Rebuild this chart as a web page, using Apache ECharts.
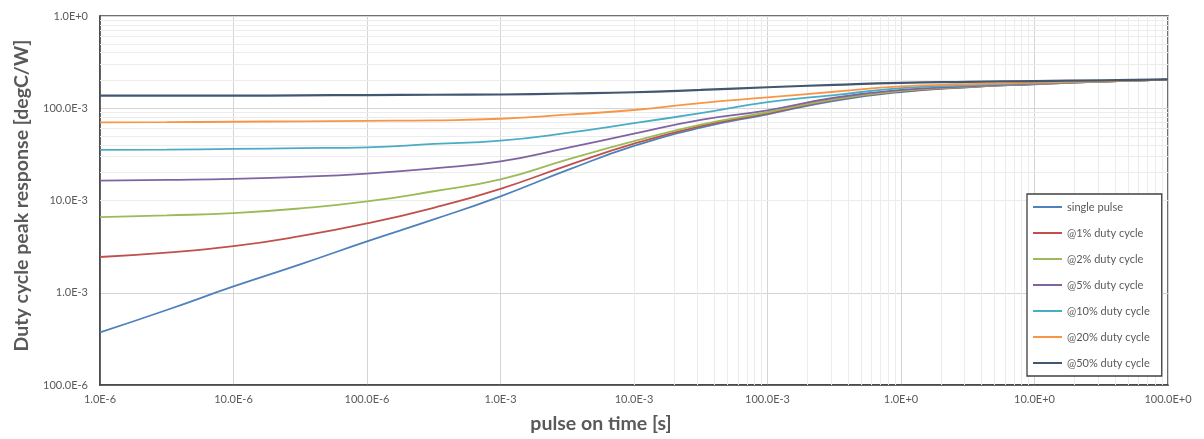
<!DOCTYPE html>
<html>
<head>
<meta charset="utf-8">
<script src="https://cdn.jsdelivr.net/npm/echarts@6/dist/echarts.min.js"></script>
<style>
  html, body { margin: 0; padding: 0; background: #fff; }
  #chart { width: 1204px; height: 439px; }
</style>
</head>
<body>
<div id="chart"></div>
<script>
// pulse on time [s], half-decade steps
var pulseTimes = [1e-6, 3.16e-6, 1e-5, 3.16e-5, 1e-4, 3.16e-4, 1e-3, 3.16e-3, 1e-2,
  3.16e-2, 1e-1, 3.16e-1, 1, 3.16, 10, 31.6, 100];

var seriesNames = ['single pulse', '@1% duty cycle', '@2% duty cycle', '@5% duty cycle',
  '@10% duty cycle', '@20% duty cycle', '@50% duty cycle'];

var singlePulse = [0.000371, 0.00065, 0.00117, 0.00203, 0.0036, 0.00623, 0.0111, 0.0213, 0.039,
  0.0615, 0.0861, 0.1205, 0.150, 0.169, 0.182, 0.194, 0.204];
var duty1 = [0.00244, 0.00272, 0.0032, 0.00411, 0.00564, 0.00834, 0.0134, 0.0239, 0.0413,
  0.0639, 0.088, 0.1236, 0.152, 0.170, 0.183, 0.194, 0.204];
var duty2 = [0.00659, 0.00689, 0.0073, 0.0082, 0.00976, 0.0126, 0.0169, 0.0277, 0.044,
  0.0663, 0.0905, 0.125, 0.154, 0.171, 0.184, 0.194, 0.204];
var duty5 = [0.01645, 0.01675, 0.01715, 0.01803, 0.0196, 0.0223, 0.0265, 0.0371, 0.053,
  0.075, 0.095, 0.130, 0.158, 0.173, 0.185, 0.195, 0.204];
var duty10 = [0.0353, 0.0356, 0.0362, 0.0369, 0.0377, 0.0410, 0.0446, 0.054, 0.0688,
  0.0887, 0.1167, 0.139, 0.165, 0.177, 0.187, 0.195, 0.204];
var duty20 = [0.0702, 0.0706, 0.0714, 0.0722, 0.0730, 0.0740, 0.0769, 0.0851, 0.0957,
  0.1138, 0.131, 0.151, 0.173, 0.182, 0.190, 0.196, 0.205];
var duty50 = [0.137, 0.137, 0.137, 0.138, 0.139, 0.140, 0.141, 0.1445, 0.149,
  0.158, 0.169, 0.179, 0.188, 0.193, 0.197, 0.201, 0.206];

var allValues = [singlePulse, duty1, duty2, duty5, duty10, duty20, duty50];
var colors = ['#4F81BD', '#C0504D', '#9BBB59', '#8064A2', '#4BACC6', '#F79646', '#435770'];

// engineering notation like the spreadsheet: 1.0E-6, 10.0E-6, 100.0E-6, 1.0E-3 ...
function engLabel(v) {
  var e = Math.round(Math.log10(v));
  var eng = Math.floor(e / 3) * 3;
  var m = Math.pow(10, e - eng);
  return m.toFixed(1) + 'E' + (eng >= 0 ? '+' : '') + eng;
}

// minor grid lines at 2..9 of every decade
var minorX = [], minorY = [];
for (var d = -6; d < 2; d++) {
  for (var k = 2; k <= 9; k++) minorX.push({ xAxis: k * Math.pow(10, d) });
}
for (var d2 = -4; d2 < 0; d2++) {
  for (var k2 = 2; k2 <= 9; k2++) minorY.push({ yAxis: k2 * Math.pow(10, d2) });
}

var font = 'Lato, "Open Sans", sans-serif';

var series = [{
  name: 'minor-grid',
  type: 'line',
  data: [],
  z: 1,
  silent: true,
  markLine: {
    z: 1,
    silent: true,
    animation: false,
    symbol: ['none', 'none'],
    label: { show: false },
    emphasis: { disabled: true },
    lineStyle: { color: '#ececec', width: 1, type: 'solid' },
    data: minorX.concat(minorY)
  }
}];

allValues.forEach(function (vals, i) {
  series.push({
    name: seriesNames[i],
    type: 'line',
    z: 3,
    smooth: 0.5,
    symbol: 'none',
    showSymbol: false,
    color: colors[i],
    lineStyle: { width: i === 6 ? 2.2 : 1.8, color: colors[i] },
    data: pulseTimes.map(function (t, j) { return [t, vals[j]]; })
  });
});

var chart = echarts.init(document.getElementById('chart'));
chart.setOption({
  animation: false,
  backgroundColor: '#fff',
  grid: {
    left: 100, right: 36, top: 16, bottom: 53,
    show: true, borderColor: '#404040', borderWidth: 1.5
  },
  legend: {
    data: seriesNames,
    z: 20,
    orient: 'vertical',
    left: 1027,
    top: 194,
    padding: [6, 12, 6, 6],
    itemGap: 12,
    itemWidth: 29,
    itemHeight: 2,
    itemTextGap: 4,
    icon: 'rect',
    backgroundColor: '#fff',
    borderColor: '#404040',
    borderWidth: 1.3,
    borderRadius: 0,
    textStyle: { fontFamily: font, fontSize: 11, color: '#595959', lineHeight: 14 }
  },
  xAxis: {
    type: 'log',
    logBase: 10,
    min: 1e-6,
    max: 100,
    splitNumber: 8,
    name: 'pulse on time [s]',
    nameLocation: 'middle',
    nameGap: 29,
    nameTextStyle: {
      fontFamily: font, fontSize: 19.5, fontWeight: 'bold', color: '#595959',
      padding: [0, 66, 0, 0]
    },
    axisLine: { show: true, lineStyle: { color: '#404040', width: 1.5 } },
    axisTick: { show: false },
    axisLabel: { fontFamily: font, fontSize: 11, color: '#595959', margin: 9, formatter: engLabel },
    splitLine: { show: true, lineStyle: { color: '#d4d4d4', width: 1 } }
  },
  yAxis: {
    type: 'log',
    logBase: 10,
    min: 1e-4,
    max: 1,
    splitNumber: 4,
    name: 'Duty cycle peak response [degC/W]',
    nameLocation: 'middle',
    nameGap: 68,
    nameTextStyle: {
      fontFamily: font, fontSize: 19.5, fontWeight: 'bold', color: '#595959',
      padding: [0, 0, 0, 10]
    },
    axisLine: { show: true, lineStyle: { color: '#404040', width: 1.5 } },
    axisTick: { show: false },
    axisLabel: { fontFamily: font, fontSize: 11, color: '#595959', margin: 12, formatter: engLabel },
    splitLine: { show: true, lineStyle: { color: '#d4d4d4', width: 1 } }
  },
  series: series
});
</script>
</body>
</html>
